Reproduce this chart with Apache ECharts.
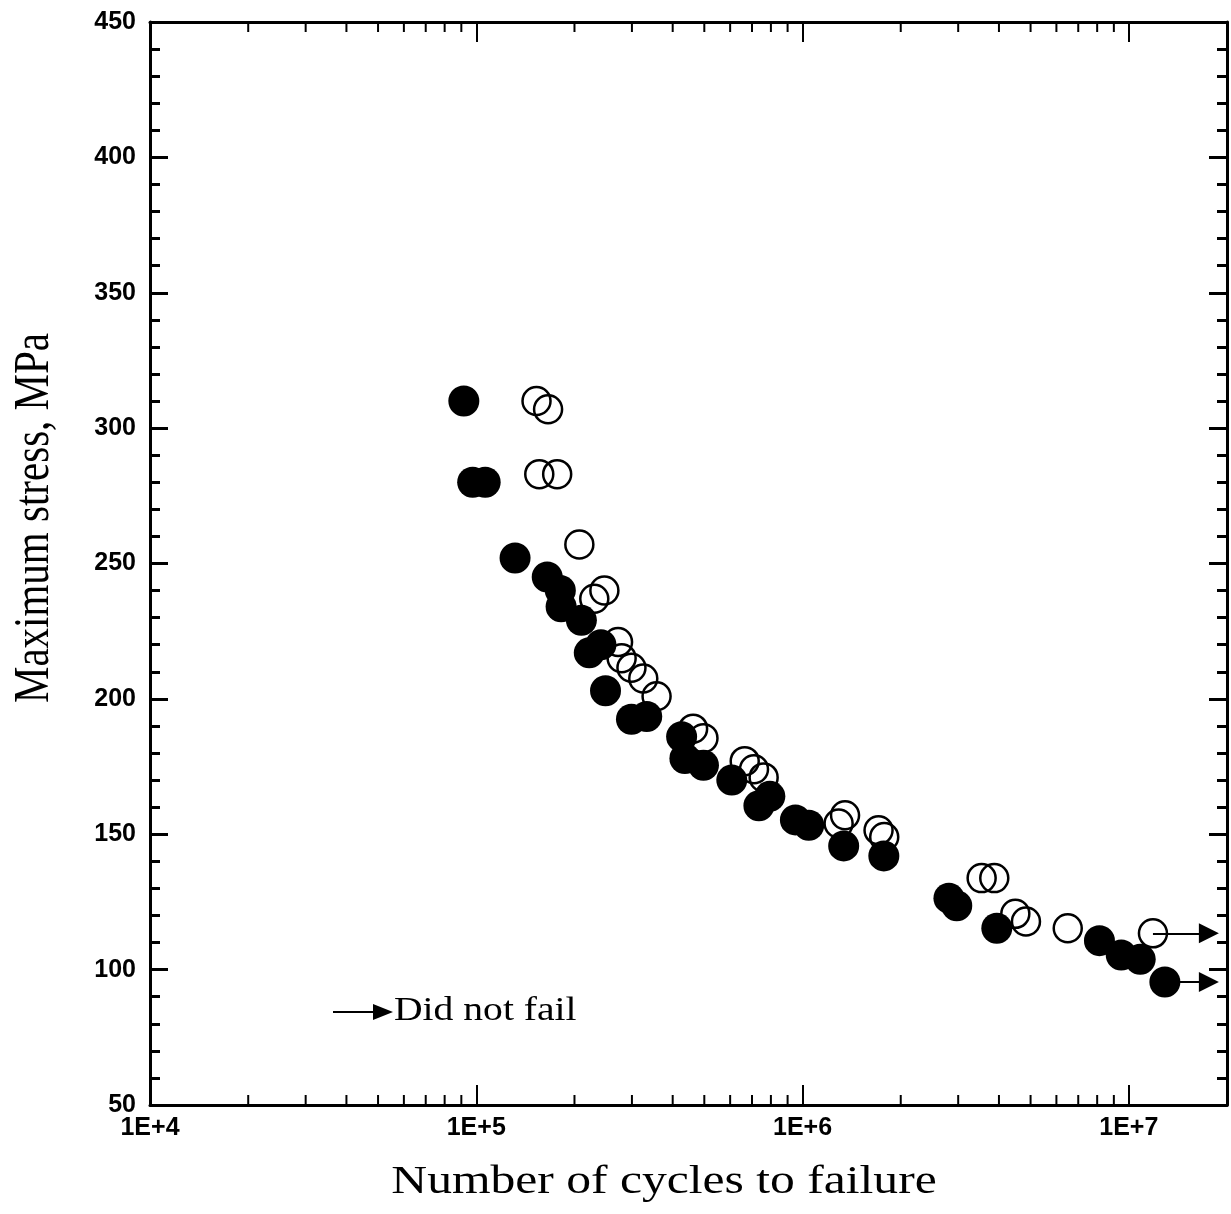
<!DOCTYPE html>
<html>
<head>
<meta charset="utf-8">
<script src="https://cdn.jsdelivr.net/npm/echarts@6/dist/echarts.min.js"></script>
<style>html,body{margin:0;padding:0;background:#fff}#c{width:1231px;height:1214px}</style>
</head>
<body>
<div id="c"></div>
<script>
// Filled circles: [cycles, max stress MPa]
const filledFailed = [
  [9.16e4, 310], [9.75e4, 280], [1.065e5, 280], [1.315e5, 252],
  [1.65e5, 245], [1.81e5, 240], [1.82e5, 234], [2.10e5, 229],
  [2.22e5, 217], [2.41e5, 220], [2.49e5, 203], [2.99e5, 192.5],
  [3.33e5, 193.5], [4.26e5, 186], [4.36e5, 178], [4.97e5, 175.5],
  [6.07e5, 170], [7.35e5, 160.5], [7.94e5, 164], [9.51e5, 155.3],
  [1.045e6, 153.3], [1.337e6, 145.7], [1.775e6, 142], [2.81e6, 126.4],
  [2.97e6, 123.6], [3.94e6, 115.3], [8.13e6, 110.7], [9.48e6, 105.4],
  [1.084e7, 103.8]
];
const filledRunouts = [[1.29e7, 95.4]];

// Open circles
const openFailed = [
  [1.53e5, 310], [1.66e5, 307], [1.56e5, 283], [1.77e5, 283],
  [2.07e5, 257], [2.30e5, 237], [2.47e5, 240], [2.72e5, 221],
  [2.79e5, 215], [2.99e5, 211.5], [3.25e5, 207.5], [3.57e5, 201],
  [4.62e5, 189], [4.97e5, 185.5], [6.65e5, 177], [7.10e5, 174],
  [7.60e5, 171], [1.29e6, 154], [1.35e6, 157], [1.71e6, 151.5],
  [1.78e6, 149], [3.54e6, 133.8], [3.87e6, 133.8], [4.49e6, 120.6],
  [4.84e6, 117.8], [6.50e6, 115.3]
];
const openRunouts = [[1.186e7, 113.4]];

const runoutArrowEnd = 1.76e7;

// Axis definitions
const xMin = 1e4, xMax = 2e7;
const yMin = 50, yMax = 450, yStep = 50;
const logDecades = [1e4, 1e5, 1e6];
const logMultipliers = [2, 3, 4, 5, 6, 7, 8, 9];
const xMinorTicks = [];
logDecades.forEach(d => logMultipliers.forEach(m => xMinorTicks.push([d * m, yMin])));

const xTitle = 'Number of cycles to failure';
const yTitle = 'Maximum stress, MPa';
const legendText = 'Did not fail';

function arrowLines(points) {
  return points.map(p => [{coord: [p[0], p[1]]}, {coord: [runoutArrowEnd, p[1]]}]);
}

const chart = echarts.init(document.getElementById('c'), null, {renderer: 'canvas'});

const axisLine = {show: true, lineStyle: {color: '#000', width: 3}};
const tickFont = {fontFamily: '"Liberation Sans", Arial, sans-serif', fontSize: 25, fontWeight: 'bold', color: '#000'};

const option = {
  animation: false,
  backgroundColor: '#fff',
  grid: {left: 150, right: 4, top: 22, bottom: 109, containLabel: false},
  xAxis: [
    {
      type: 'log', logBase: 10, min: xMin, max: xMax, position: 'bottom',
      axisLine: axisLine,
      axisTick: {show: true, inside: true, length: 20, lineStyle: {color: '#000', width: 2}},
      splitLine: {show: false},
      axisLabel: Object.assign({
        margin: 11,
        formatter: function (v) {
          const e = Math.log10(v);
          if (Math.abs(e - Math.round(e)) < 1e-6) return '1E+' + Math.round(e);
          return '';
        }
      }, tickFont)
    },
    {
      type: 'log', logBase: 10, min: xMin, max: xMax, position: 'top',
      axisLine: axisLine,
      axisTick: {show: true, inside: true, length: 20, lineStyle: {color: '#000', width: 2}},
      splitLine: {show: false},
      axisLabel: {show: false}
    }
  ],
  yAxis: [
    {
      type: 'value', min: yMin, max: yMax, interval: yStep, position: 'left',
      axisLine: axisLine,
      axisTick: {show: true, inside: true, length: 18, lineStyle: {color: '#000', width: 3}},
      minorTick: {show: true, splitNumber: 5, length: 10, lineStyle: {color: '#000', width: 3}},
      splitLine: {show: false},
      axisLabel: Object.assign({margin: 14}, tickFont)
    },
    {
      type: 'value', min: yMin, max: yMax, interval: yStep, position: 'right',
      axisLine: axisLine,
      axisTick: {show: true, inside: true, length: 18, lineStyle: {color: '#000', width: 3}},
      minorTick: {show: true, splitNumber: 5, length: 10, lineStyle: {color: '#000', width: 3}},
      splitLine: {show: false},
      axisLabel: {show: false}
    }
  ],
  series: [
    {
      type: 'custom', xAxisIndex: 0, yAxisIndex: 0, silent: true, clip: false,
      data: xMinorTicks,
      renderItem: function (params, api) {
        const x = api.coord([api.value(0), api.value(1)])[0];
        const cs = params.coordSys;
        return {
          type: 'group',
          children: [
            {type: 'line', shape: {x1: x, y1: cs.y + cs.height, x2: x, y2: cs.y + cs.height - 10}, style: {stroke: '#000', lineWidth: 2}},
            {type: 'line', shape: {x1: x, y1: cs.y, x2: x, y2: cs.y + 10}, style: {stroke: '#000', lineWidth: 2}}
          ]
        };
      }
    },
    {
      name: 'filled', type: 'scatter', xAxisIndex: 0, yAxisIndex: 0,
      symbol: 'circle', symbolSize: 31,
      itemStyle: {color: '#000', opacity: 1},
      data: filledFailed.concat(filledRunouts),
      markLine: {
        silent: true, symbol: ['none', 'triangle'], symbolSize: [20, 20],
        lineStyle: {color: '#000', width: 2, type: 'solid'},
        label: {show: false},
        data: arrowLines(filledRunouts)
      },
      z: 3
    },
    {
      name: 'open', type: 'scatter', xAxisIndex: 0, yAxisIndex: 0,
      symbol: 'circle', symbolSize: 28,
      itemStyle: {color: 'rgba(0,0,0,0)', borderColor: '#000', borderWidth: 2.5, opacity: 1},
      data: openFailed.concat(openRunouts),
      markLine: {
        silent: true, symbol: ['none', 'triangle'], symbolSize: [20, 20],
        lineStyle: {color: '#000', width: 2, type: 'solid'},
        label: {show: false},
        data: arrowLines(openRunouts)
      },
      z: 4
    }
  ],
  graphic: [
    {
      type: 'text', x: 664, y: 1182, scaleX: 1.24, silent: true,
      style: {text: xTitle, fontFamily: '"Liberation Serif", "Times New Roman", serif', fontSize: 40, fill: '#000', align: 'center', verticalAlign: 'middle'}
    },
    {
      type: 'text', x: 35, y: 518, rotation: Math.PI / 2, scaleY: 1.22, silent: true,
      style: {text: yTitle, fontFamily: '"Liberation Serif", "Times New Roman", serif', fontSize: 41, fill: '#000', align: 'center', verticalAlign: 'middle'}
    },
    {
      type: 'line', silent: true,
      shape: {x1: 333, y1: 1012, x2: 376, y2: 1012},
      style: {stroke: '#000', lineWidth: 2}
    },
    {
      type: 'polygon', silent: true,
      shape: {points: [[373, 1004], [393, 1012], [373, 1020]]},
      style: {fill: '#000'}
    },
    {
      type: 'text', x: 394, y: 1011, scaleX: 1.2, silent: true,
      style: {text: legendText, fontFamily: '"Liberation Serif", "Times New Roman", serif', fontSize: 33, fill: '#000', align: 'left', verticalAlign: 'middle'}
    }
  ]
};
chart.setOption(option);
</script>
</body>
</html>
